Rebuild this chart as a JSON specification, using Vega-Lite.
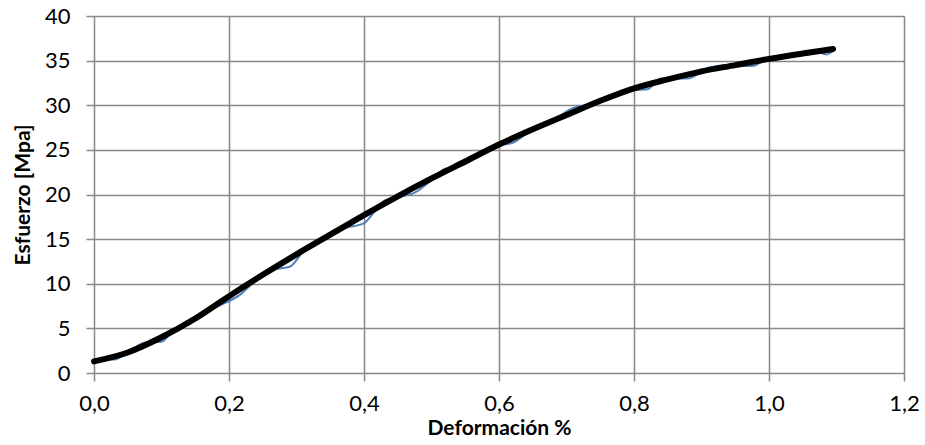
{
  "$schema": "https://vega.github.io/schema/vega-lite/v6.json",
  "autosize": "none",
  "width": 810,
  "height": 357,
  "padding": {"left": 94, "top": 16, "right": 21, "bottom": 72},
  "background": "white",
  "config": {
    "view": {"stroke": null},
    "axis": {
      "labelFont": "Lato",
      "titleFont": "Lato",
      "labelFontSize": 22,
      "labelColor": "#000000",
      "titleColor": "#000000",
      "titleFontSize": 21,
      "titleFontWeight": "bold",
      "gridColor": "#878787",
      "gridWidth": 1.5,
      "gridOpacity": 1,
      "tickColor": "#878787",
      "tickWidth": 1.5,
      "tickSize": 8,
      "domain": false
    }
  },
  "datasets": {
    "medido": [
      {"x": 0.000, "y": 1.1}, {"x": 0.015, "y": 1.6}, {"x": 0.030, "y": 1.5}, {"x": 0.050, "y": 2.3},
      {"x": 0.075, "y": 3.4}, {"x": 0.100, "y": 3.5}, {"x": 0.120, "y": 5.0}, {"x": 0.140, "y": 5.4},
      {"x": 0.165, "y": 7.0}, {"x": 0.190, "y": 7.7}, {"x": 0.215, "y": 8.7}, {"x": 0.240, "y": 10.4},
      {"x": 0.265, "y": 11.6}, {"x": 0.290, "y": 11.9}, {"x": 0.310, "y": 13.6}, {"x": 0.340, "y": 14.9},
      {"x": 0.370, "y": 16.2}, {"x": 0.400, "y": 16.8}, {"x": 0.430, "y": 19.3}, {"x": 0.450, "y": 19.7},
      {"x": 0.475, "y": 20.2}, {"x": 0.500, "y": 21.6}, {"x": 0.520, "y": 22.9}, {"x": 0.540, "y": 23.1},
      {"x": 0.570, "y": 24.3}, {"x": 0.600, "y": 25.5}, {"x": 0.620, "y": 25.8}, {"x": 0.650, "y": 27.3},
      {"x": 0.680, "y": 28.3}, {"x": 0.710, "y": 29.7}, {"x": 0.740, "y": 30.1}, {"x": 0.770, "y": 31.1},
      {"x": 0.800, "y": 31.7}, {"x": 0.820, "y": 31.8}, {"x": 0.840, "y": 33.0}, {"x": 0.860, "y": 33.0},
      {"x": 0.880, "y": 33.0}, {"x": 0.910, "y": 34.2}, {"x": 0.940, "y": 34.5}, {"x": 0.975, "y": 34.4},
      {"x": 1.000, "y": 35.3}, {"x": 1.030, "y": 35.5}, {"x": 1.060, "y": 35.7}, {"x": 1.070, "y": 36.0},
      {"x": 1.085, "y": 35.7}, {"x": 1.095, "y": 36.1}
    ],
    "ajuste": [
      {"x": 0.00, "y": 1.3}, {"x": 0.05, "y": 2.3}, {"x": 0.10, "y": 4.0}, {"x": 0.15, "y": 6.1},
      {"x": 0.20, "y": 8.6}, {"x": 0.25, "y": 11.0}, {"x": 0.30, "y": 13.3}, {"x": 0.35, "y": 15.5},
      {"x": 0.40, "y": 17.7}, {"x": 0.45, "y": 19.8}, {"x": 0.50, "y": 21.8}, {"x": 0.55, "y": 23.7},
      {"x": 0.60, "y": 25.6}, {"x": 0.65, "y": 27.3}, {"x": 0.70, "y": 28.9}, {"x": 0.75, "y": 30.5},
      {"x": 0.80, "y": 31.9}, {"x": 0.85, "y": 32.9}, {"x": 0.90, "y": 33.8}, {"x": 0.95, "y": 34.5},
      {"x": 1.00, "y": 35.2}, {"x": 1.05, "y": 35.8}, {"x": 1.095, "y": 36.3}
    ]
  },
  "encoding": {
    "x": {
      "field": "x", "type": "quantitative",
      "scale": {"domain": [0, 1.2], "nice": false, "zero": false},
      "axis": {"values": [0, 0.2, 0.4, 0.6, 0.8, 1.0, 1.2], "format": ".1f", "labelExpr": "replace(datum.label, '.', ',')", "title": "Deformación %", "labelPadding": 12, "titlePadding": 3, "labelFlush": false}
    },
    "y": {
      "field": "y", "type": "quantitative",
      "scale": {"domain": [0, 40], "nice": false},
      "axis": {"values": [0, 5, 10, 15, 20, 25, 30, 35, 40], "title": "Esfuerzo [Mpa]", "labelPadding": 16, "titlePadding": 11}
    }
  },
  "layer": [
    {
      "data": {"name": "medido"},
      "mark": {"type": "line", "interpolate": "monotone", "color": "#4f81bd", "strokeWidth": 2}
    },
    {
      "data": {"name": "ajuste"},
      "mark": {"type": "line", "interpolate": "monotone", "color": "#000000", "strokeWidth": 6, "strokeCap": "round"}
    }
  ]
}
